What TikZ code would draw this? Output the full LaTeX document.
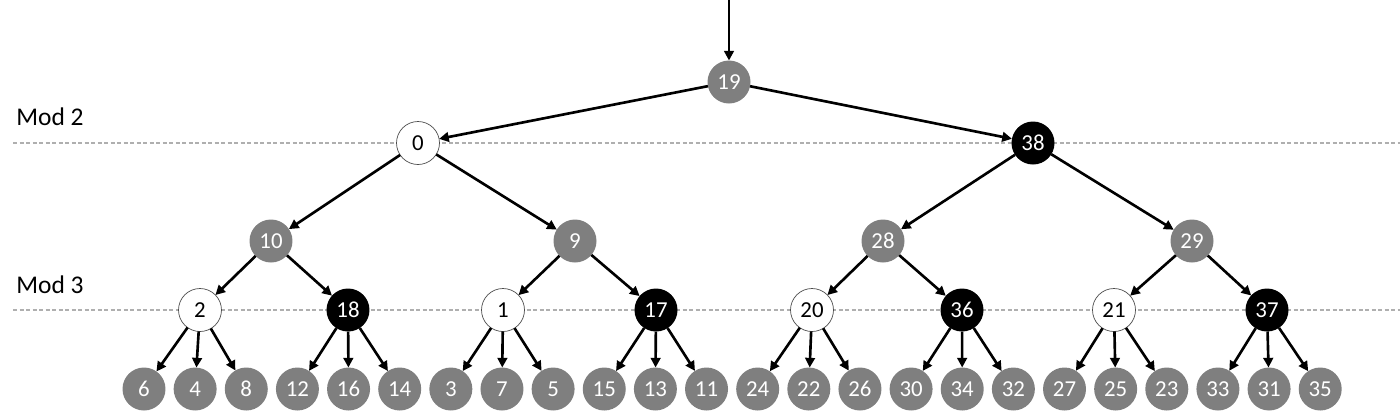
\documentclass[tikz,border=0pt]{standalone}
\usepackage{fontspec}
\setmainfont{Carlito}
\usetikzlibrary{arrows.meta, positioning}
\definecolor{cinza}{RGB}{127, 127, 127}
\definecolor{cinzaClaro}{RGB}{175, 175, 175}
\tikzset{
  bola/.style={
    circle, minimum size=0.86cm, inner sep=0pt, outer sep=0pt,
    font=\fontsize{13}{14}\selectfont
  },
  bolaCinza/.style={bola, fill=cinza, text=white},
  bolaPreta/.style={bola, fill=black, text=white},
  bolaBranca/.style={bola, fill=white, draw=black!70, line width=0.4pt},
  seta/.style={-{Triangle[length=5.5pt, width=5.5pt]}, line width=1.5pt, black},
  tracejado/.style={cinzaClaro, line width=0.6pt, dash pattern=on 2.4pt off 1.3pt},
  rotulo/.style={anchor=west, inner sep=0pt, font=\fontsize{14.5}{15}\selectfont},
}

\begin{document}
\begin{tikzpicture}[x=0.02cm, y=-0.02cm]
        \useasboundingbox (0,0) rectangle (1400,414);

        % linhas guia
        \coordinate (m2ini) at (13,143);
        \coordinate (m2fim) at (1400,143);
        \coordinate (m3ini) at (13,310);
        \coordinate (m3fim) at (1400,310);
        \draw[tracejado] (m2ini) -- (m2fim);
        \draw[tracejado] (m3ini) -- (m3fim);
        \node[rotulo] (mod2) at (16,117) {Mod 2};
        \node[rotulo] (mod3) at (16,285) {Mod 3};

        % raiz e primeiro nivel
        \node[bolaCinza] (n19) at (729,82) {19};
        \node[bolaBranca] (n0) at (418,143) {0};
        \node[bolaPreta] (n38) at (1033,143) {38};

        \node[bolaCinza] (n10) at (271,241) {10};
        \node[bolaCinza] (n9) at (575,241) {9};
        \node[bolaCinza] (n28) at (883,241) {28};
        \node[bolaCinza] (n29) at (1192,241) {29};

        \node[bolaBranca] (n2) at (200,310) {2};
        \node[bolaPreta] (n18) at (348,310) {18};
        \node[bolaBranca] (n1) at (503,310) {1};
        \node[bolaPreta] (n17) at (656,310) {17};
        \node[bolaBranca] (n20) at (812,310) {20};
        \node[bolaPreta] (n36) at (962,310) {36};
        \node[bolaBranca] (n21) at (1114,310) {21};
        \node[bolaPreta] (n37) at (1267,310) {37};

        % folhas, lado a lado
        \node[bolaCinza] (n6) at (144,389) {6};
        \node[bolaCinza, right=0.163cm of n6] (n4) {4};
        \node[bolaCinza, right=0.163cm of n4] (n8) {8};
        \node[bolaCinza, right=0.163cm of n8] (n12) {12};
        \node[bolaCinza, right=0.163cm of n12] (n16) {16};
        \node[bolaCinza, right=0.163cm of n16] (n14) {14};
        \node[bolaCinza, right=0.163cm of n14] (n3) {3};
        \node[bolaCinza, right=0.163cm of n3] (n7) {7};
        \node[bolaCinza, right=0.163cm of n7] (n5) {5};
        \node[bolaCinza, right=0.163cm of n5] (n15) {15};
        \node[bolaCinza, right=0.163cm of n15] (n13) {13};
        \node[bolaCinza, right=0.163cm of n13] (n11) {11};
        \node[bolaCinza, right=0.163cm of n11] (n24) {24};
        \node[bolaCinza, right=0.163cm of n24] (n22) {22};
        \node[bolaCinza, right=0.163cm of n22] (n26) {26};
        \node[bolaCinza, right=0.163cm of n26] (n30) {30};
        \node[bolaCinza, right=0.163cm of n30] (n34) {34};
        \node[bolaCinza, right=0.163cm of n34] (n32) {32};
        \node[bolaCinza, right=0.163cm of n32] (n27) {27};
        \node[bolaCinza, right=0.163cm of n27] (n25) {25};
        \node[bolaCinza, right=0.163cm of n25] (n23) {23};
        \node[bolaCinza, right=0.163cm of n23] (n33) {33};
        \node[bolaCinza, right=0.163cm of n33] (n31) {31};
        \node[bolaCinza, right=0.163cm of n31] (n35) {35};

        % setas
        \coordinate (entrada) at (729,0);
        \draw[seta] (entrada) -- (n19);
        \draw[seta] (n19) -- (n0);
        \draw[seta] (n19) -- (n38);

        \draw[seta] (n0) -- (n10);
        \draw[seta] (n0) -- (n9);
        \draw[seta] (n38) -- (n28);
        \draw[seta] (n38) -- (n29);

        \draw[seta] (n10) -- (n2);
        \draw[seta] (n10) -- (n18);
        \draw[seta] (n9) -- (n1);
        \draw[seta] (n9) -- (n17);
        \draw[seta] (n28) -- (n20);
        \draw[seta] (n28) -- (n36);
        \draw[seta] (n29) -- (n21);
        \draw[seta] (n29) -- (n37);

        \draw[seta] (n2) -- (n6);
        \draw[seta] (n2) -- (n4);
        \draw[seta] (n2) -- (n8);
        \draw[seta] (n18) -- (n12);
        \draw[seta] (n18) -- (n16);
        \draw[seta] (n18) -- (n14);
        \draw[seta] (n1) -- (n3);
        \draw[seta] (n1) -- (n7);
        \draw[seta] (n1) -- (n5);
        \draw[seta] (n17) -- (n15);
        \draw[seta] (n17) -- (n13);
        \draw[seta] (n17) -- (n11);
        \draw[seta] (n20) -- (n24);
        \draw[seta] (n20) -- (n22);
        \draw[seta] (n20) -- (n26);
        \draw[seta] (n36) -- (n30);
        \draw[seta] (n36) -- (n34);
        \draw[seta] (n36) -- (n32);
        \draw[seta] (n21) -- (n27);
        \draw[seta] (n21) -- (n25);
        \draw[seta] (n21) -- (n23);
        \draw[seta] (n37) -- (n33);
        \draw[seta] (n37) -- (n31);
        \draw[seta] (n37) -- (n35);
      \end{tikzpicture}
\end{document}
